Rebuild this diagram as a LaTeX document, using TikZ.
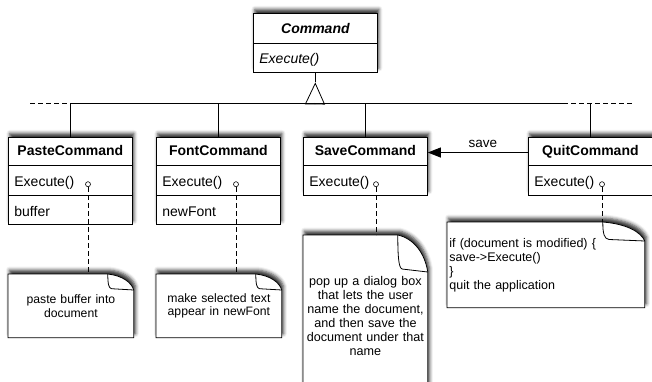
\documentclass[tikz,border=0pt]{standalone}
\usepackage{fontspec}
\setmainfont{Liberation Sans}
\usetikzlibrary{shapes.multipart, arrows.meta, calc, shadows.blur, backgrounds}

% compartment contents of a class box: fixed width and height
\newcommand\hdrpart[1]{\makebox[112pt][c]{\bfseries #1}\rule[-9pt]{0pt}{27pt}}
\newcommand\oppart[1]{\makebox[112pt][l]{#1}\rule[-8pt]{0pt}{29pt}}

% outline of a note with a folded top-right corner, drawn around node #1
% #2 = width of the fold, #3 = height of the fold
\newcommand\foldnote[3]{%
  \filldraw[notefold] (#1.south west) -- (#1.north west) -- ($(#1.north east)+(-#2,0)$)
    .. controls ($(#1.north east)+(-0.45*#2,0.1*#3)$) and ($(#1.north east)+(-0.1*#2,0.5*#3)$) .. ($(#1.north east)+(0,#3)$)
    -- (#1.south east) -- cycle;
  \draw[thinline, line join=round] ($(#1.north east)+(-#2,0)$)
    .. controls ($(#1.north east)+(-#2,0.6*#3)$) and ($(#1.north east)+(-0.97*#2,0.9*#3)$) .. ($(#1.north east)+(-0.85*#2,0.92*#3)$)
    -- ($(#1.north east)+(0,#3)$);
}

\tikzset{
  thinline/.style={line width=0.8pt},
  softshadow/.style={blur shadow={shadow xshift=1.5pt, shadow yshift=4pt, shadow blur radius=3.5pt, shadow opacity=80}},
  umlbox/.style={rectangle split, rectangle split parts=#1, draw, fill=white, thinline,
    inner xsep=6pt, inner ysep=0pt,
    font=\fontsize{14}{17}\selectfont, softshadow, anchor=north west},
  port/.style={circle, draw, fill=white, minimum size=5pt, inner sep=0pt, line width=0.6pt},
  notebox/.style={anchor=north west, inner xsep=0pt, inner ysep=0pt, text width=125pt, align=center,
    font=\fontsize{12.2}{13.5}\selectfont},
  notefold/.style={fill=white, draw, thinline, softshadow},
  dashline/.style={thinline, dash pattern=on 5pt off 3pt},
}

\begin{document}
\begin{tikzpicture}[x=1pt, y=-1pt, thinline]
\useasboundingbox (0,0) rectangle (652,381);

% abstract class
\node[umlbox=2] (command) at (253,13)
  {\makebox[112pt][c]{\bfseries\itshape Command}\rule[-9pt]{0pt}{29pt}
   \nodepart{two}\makebox[112pt][l]{\itshape Execute()}\rule[-8pt]{0pt}{28pt}};

% concrete commands
\node[umlbox=3] (paste) at (8,137)
  {\hdrpart{PasteCommand}\nodepart{two}\oppart{Execute()}\nodepart{three}\oppart{buffer}};
\node[umlbox=3] (font) at (156,137)
  {\hdrpart{FontCommand}\nodepart{two}\oppart{Execute()}\nodepart{three}\oppart{newFont}};
\node[umlbox=2] (save) at (303,137)
  {\hdrpart{SaveCommand}\nodepart{two}\oppart{Execute()}};
\node[umlbox=2] (quit) at (528,137)
  {\hdrpart{QuitCommand}\nodepart{two}\oppart{Execute()}};

% generalization tree
\coordinate (hub) at (315,103);
\coordinate (busend) at (563,103);
\coordinate (busleft) at (30,103);
\coordinate (busright) at (633,103);
\draw (command.south) -- ++(0,10);
\draw[-{Triangle[open,length=22pt,width=20pt]}, shorten >=10pt] (hub) -- (command.south);
\draw (paste.north |- hub) -- (busend);
\draw[dashline] (busleft) -- (paste.north |- hub);
\draw[dashline] (busend) -- (busright);
\foreach \c in {paste,font,save,quit}
  \draw (\c.north) -- (\c.north |- hub);

% association
\coordinate (quitH) at ($(quit.north west)!0.55!(quit.text split west)$);
\coordinate (saveH) at ($(save.north east)!0.55!(save.text split east)$);
\draw[-{Triangle[length=13pt,width=10pt]}] (quitH) --
  node[pos=0.45, above, inner sep=4pt, font=\fontsize{13.5}{16}\selectfont] (savelbl) {save} (saveH);

% implementation notes
\node[notebox, minimum height=63pt] (pasteN) at (8,274) {paste buffer into\\document};
\node[notebox, minimum height=63pt] (fontN) at (156,274) {make selected text\\appear in newFont};
\node[notebox, minimum height=162pt, text width=124pt, font=\fontsize{12.6}{14}\selectfont] (saveN) at (303,235)
  {pop up a dialog box\\that lets the user\\name the document,\\and then save the\\document under that\\name};
\node[notebox, minimum height=85pt, text width=193pt, inner xsep=2pt, align=left,
  font=\fontsize{12.5}{14}\selectfont] (quitN) at (447,222)
  {if (document is modified) \{\\save->Execute()\\\}\\quit the application};

\begin{scope}[on background layer]
  \foldnote{pasteN}{26}{16}
  \foldnote{fontN}{26}{16}
  \foldnote{saveN}{30}{37}
  \foldnote{quitN}{42}{19}
\end{scope}

% ports on the operations and links to their notes
\node[port] (pasteP) at ($(paste.text split west)+(80,19)$) {};
\node[port] (fontP) at ($(font.text split west)+(80,19)$) {};
\node[port] (saveP) at ($(save.text split west)+(73,19)$) {};
\node[port] (quitP) at ($(quit.text split west)+(74,19)$) {};
\foreach \c in {paste,font,save,quit}
  \draw[dashline] (\c P) -- (\c P |- \c N.north);
\end{tikzpicture}
\end{document}
